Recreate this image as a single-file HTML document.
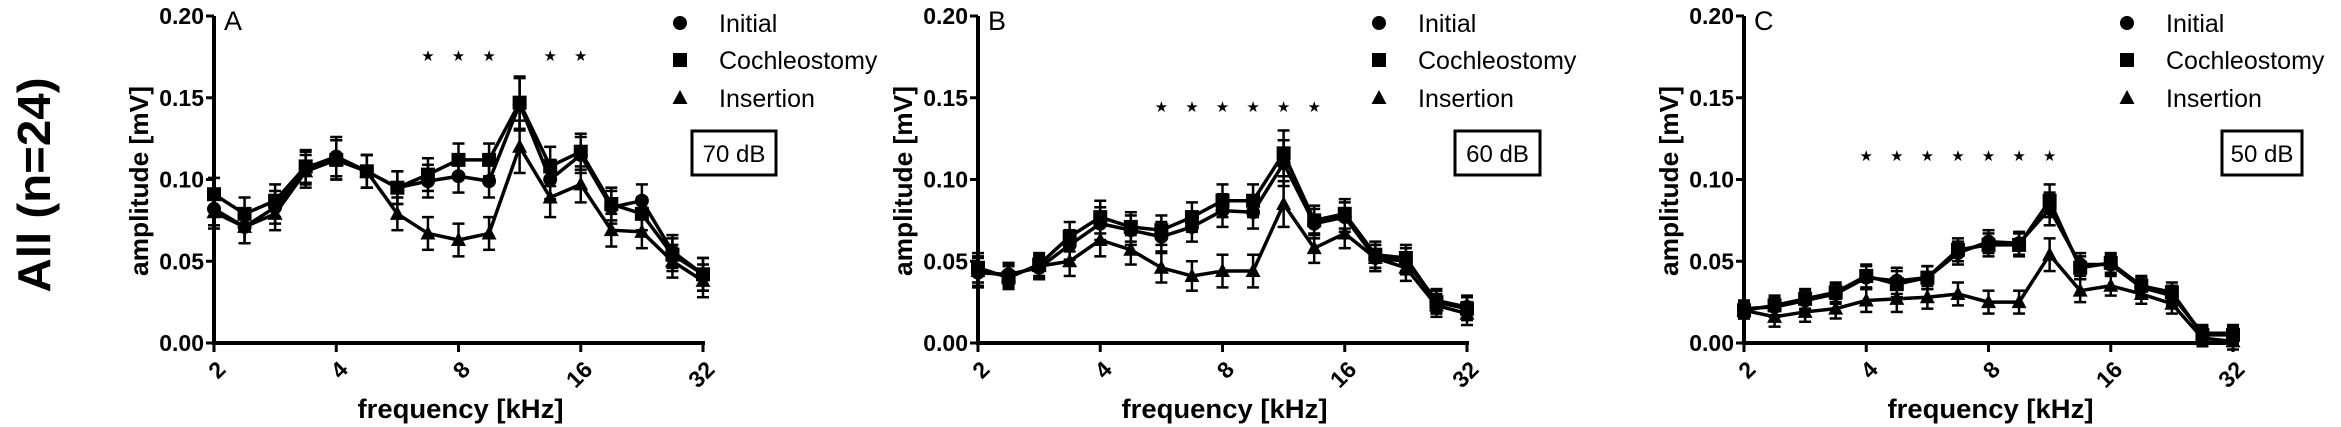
<!DOCTYPE html>
<html><head><meta charset="utf-8">
<style>
html,body{margin:0;padding:0;background:#fff;}
svg{display:block;font-family:"Liberation Sans",Arial,sans-serif;}
</style></head>
<body>
<svg id="fig" width="2341" height="427" viewBox="0 0 2341 427" xmlns="http://www.w3.org/2000/svg">
<text transform="translate(50,185) rotate(-90)" text-anchor="middle" font-weight="bold" font-size="46" textLength="215" lengthAdjust="spacingAndGlyphs">All (n=24)</text>
</svg>
<script>
const ticksY = [0, 0.05, 0.10, 0.15, 0.20];
const tickYLabels = ["0.00","0.05","0.10","0.15","0.20"];
const tickXIdx = [0, 4, 8, 12, 16];
const tickXLabels = ["2","4","8","16","32"];
const seriesNames = ["Initial","Cochleostomy","Insertion"];

const aInitial = [0.082,0.071,0.083,0.107,0.114,0.105,0.095,0.099,0.102,0.099,0.146,0.100,0.115,0.083,0.087,0.056,0.042];
const aCoch    = [0.091,0.079,0.087,0.108,0.112,0.105,0.095,0.103,0.112,0.112,0.147,0.108,0.117,0.085,0.079,0.054,0.042];
const aIns     = [0.080,0.071,0.079,0.105,0.112,0.105,0.079,0.067,0.063,0.067,0.120,0.089,0.097,0.069,0.068,0.050,0.038];
const aErr     = [0.010,0.010,0.010,0.010,0.012,0.010,0.010,0.010,0.010,0.010,0.016,0.012,0.011,0.010,0.010,0.010,0.010];
const aStars   = [7,8,9,11,12];

const bInitial = [0.043,0.042,0.046,0.060,0.073,0.069,0.065,0.071,0.081,0.080,0.110,0.073,0.077,0.052,0.050,0.026,0.022];
const bCoch    = [0.046,0.040,0.048,0.065,0.077,0.071,0.069,0.077,0.087,0.087,0.116,0.075,0.079,0.054,0.052,0.025,0.021];
const bIns     = [0.044,0.041,0.047,0.050,0.063,0.057,0.046,0.041,0.044,0.044,0.085,0.058,0.067,0.052,0.046,0.023,0.018];
const bErr     = [0.009,0.007,0.007,0.009,0.010,0.009,0.009,0.009,0.010,0.010,0.014,0.009,0.009,0.008,0.008,0.007,0.007];
const bStars   = [6,7,8,9,10,11];

const cInitial = [0.021,0.022,0.026,0.030,0.040,0.038,0.040,0.055,0.062,0.061,0.082,0.048,0.048,0.034,0.029,0.006,0.006];
const cCoch    = [0.020,0.023,0.027,0.031,0.041,0.036,0.040,0.057,0.060,0.060,0.087,0.046,0.049,0.035,0.031,0.005,0.005];
const cIns     = [0.020,0.016,0.019,0.021,0.026,0.027,0.028,0.030,0.025,0.025,0.054,0.032,0.035,0.030,0.024,0.003,0.001];
const cErr     = [0.005,0.006,0.006,0.006,0.007,0.008,0.007,0.007,0.007,0.007,0.010,0.007,0.006,0.006,0.006,0.005,0.005];
const cStars   = [4,5,6,7,8,9,10];

const panels = [
  {id:"a", letter:"A", ax:214, legX:680, boxX:692, boxW:84, db:"70 dB", starY:0.176, data:[aInitial,aCoch,aIns], err:aErr, stars:aStars},
  {id:"b", letter:"B", ax:978, legX:1379, boxX:1455, boxW:85, db:"60 dB", starY:0.145, data:[bInitial,bCoch,bIns], err:bErr, stars:bStars},
  {id:"c", letter:"C", ax:1744, legX:2127, boxX:2222, boxW:80, db:"50 dB", starY:0.115, data:[cInitial,cCoch,cIns], err:cErr, stars:cStars}
];
const NS="http://www.w3.org/2000/svg";
const svg=document.getElementById('fig');
function mk(tag,attrs,parent,text){const e=document.createElementNS(NS,tag);for(const k in attrs)e.setAttribute(k,attrs[k]);if(text!==undefined)e.textContent=text;(parent||svg).appendChild(e);return e;}
const Y0=343, YT=16, W=489;
function yS(v){return Y0-(v/0.20)*(Y0-YT);}
function marker(type,x,y,g){
  let m;
  if(type===0) m=mk('circle',{cx:x,cy:y,r:7,fill:'#000'},g);
  else if(type===1) m=mk('rect',{x:x-7,y:y-7,width:14,height:14,fill:'#000'},g);
  else m=mk('polygon',{points:`${x},${y-8} ${x-7.5},${y+6} ${x+7.5},${y+6}`,fill:'#000'},g);
  return m;
}
panels.forEach(p=>{
  const g=mk('g',{});
  
  
  const xS=i=>p.ax+i*W/16;
  const ya=mk('line',{x1:p.ax,y1:YT,x2:p.ax,y2:Y0+2,stroke:'#000','stroke-width':4},g);
  
  
  const xa=mk('line',{x1:p.ax-2,y1:Y0,x2:p.ax+W+2,y2:Y0,stroke:'#000','stroke-width':4},g);
  
  
  ticksY.forEach((v,k)=>{
    mk('line',{x1:p.ax-8,y1:yS(v),x2:p.ax,y2:yS(v),stroke:'#000','stroke-width':3},g);
    const t=mk('text',{x:p.ax-10,y:yS(v)+8,'text-anchor':'end','font-weight':'bold','font-size':23},g,tickYLabels[k]);
    
    
  });
  tickXIdx.forEach((ix,k)=>{
    const x=xS(ix);
    mk('line',{x1:x,y1:Y0,x2:x,y2:Y0+9,stroke:'#000','stroke-width':3},g);
    const t=mk('text',{transform:`translate(${x+13},${Y0+28}) rotate(-45)`,'text-anchor':'end','font-weight':'bold','font-size':23},g,tickXLabels[k]);
    
    
  });
  const yt=mk('text',{transform:`translate(${p.ax-66},181) rotate(-90)`,'text-anchor':'middle','font-weight':'bold','font-size':26,textLength:190,lengthAdjust:'spacingAndGlyphs'},g,'amplitude [mV]');
  
  
  const xt=mk('text',{x:p.ax+W/2+2,y:418,'text-anchor':'middle','font-weight':'bold','font-size':27,textLength:206,lengthAdjust:'spacingAndGlyphs'},g,'frequency [kHz]');
  
  
  const lt=mk('text',{x:p.ax+10,y:30,'font-size':27},g,p.letter);
  
  
  p.data.forEach((arr,s)=>{
    const sg=mk('g',{},g);
    
    
    arr.forEach((v,i)=>{
      const x=xS(i), e=p.err[i];
      const y1=yS(v+e), y2=yS(v-e);
      mk('line',{x1:x,y1:y1,x2:x,y2:y2,stroke:'#000','stroke-width':2.5},sg);
      mk('line',{x1:x-6,y1:y1,x2:x+6,y2:y1,stroke:'#000','stroke-width':2.5},sg);
      mk('line',{x1:x-6,y1:y2,x2:x+6,y2:y2,stroke:'#000','stroke-width':2.5},sg);
    });
    const pts=arr.map((v,i)=>xS(i)+','+yS(v)).join(' ');
    const pl=mk('polyline',{points:pts,fill:'none',stroke:'#000','stroke-width':3.5,'stroke-linejoin':'round'},sg);
    
    
    arr.forEach((v,i)=>{
      const m=marker(s,xS(i),yS(v),sg);
      
      
    });
  });
  p.stars.forEach(i=>{
    const st=mk('text',{x:xS(i),y:yS(p.starY)+6,'text-anchor':'middle','font-size':15,'font-family':'DejaVu Sans, sans-serif'},g,'★');
    
    
  });
  const lg=mk('g',{},g);
  
  
  const rows=[23,60,98];
  seriesNames.forEach((n,s)=>{
    const m=marker(s,p.legX,rows[s],lg);
    
    
    const t=mk('text',{x:p.legX+39,y:rows[s]+9,'font-size':25},lg,n);
    
    
  });
  const bx=mk('rect',{x:p.boxX,y:131,width:p.boxW,height:44,fill:'#fff',stroke:'#000','stroke-width':3},g);
  
  
  const bt=mk('text',{x:p.boxX+p.boxW/2,y:162,'text-anchor':'middle','font-size':24},g,p.db);
  
  
});
</script>
</body></html>
